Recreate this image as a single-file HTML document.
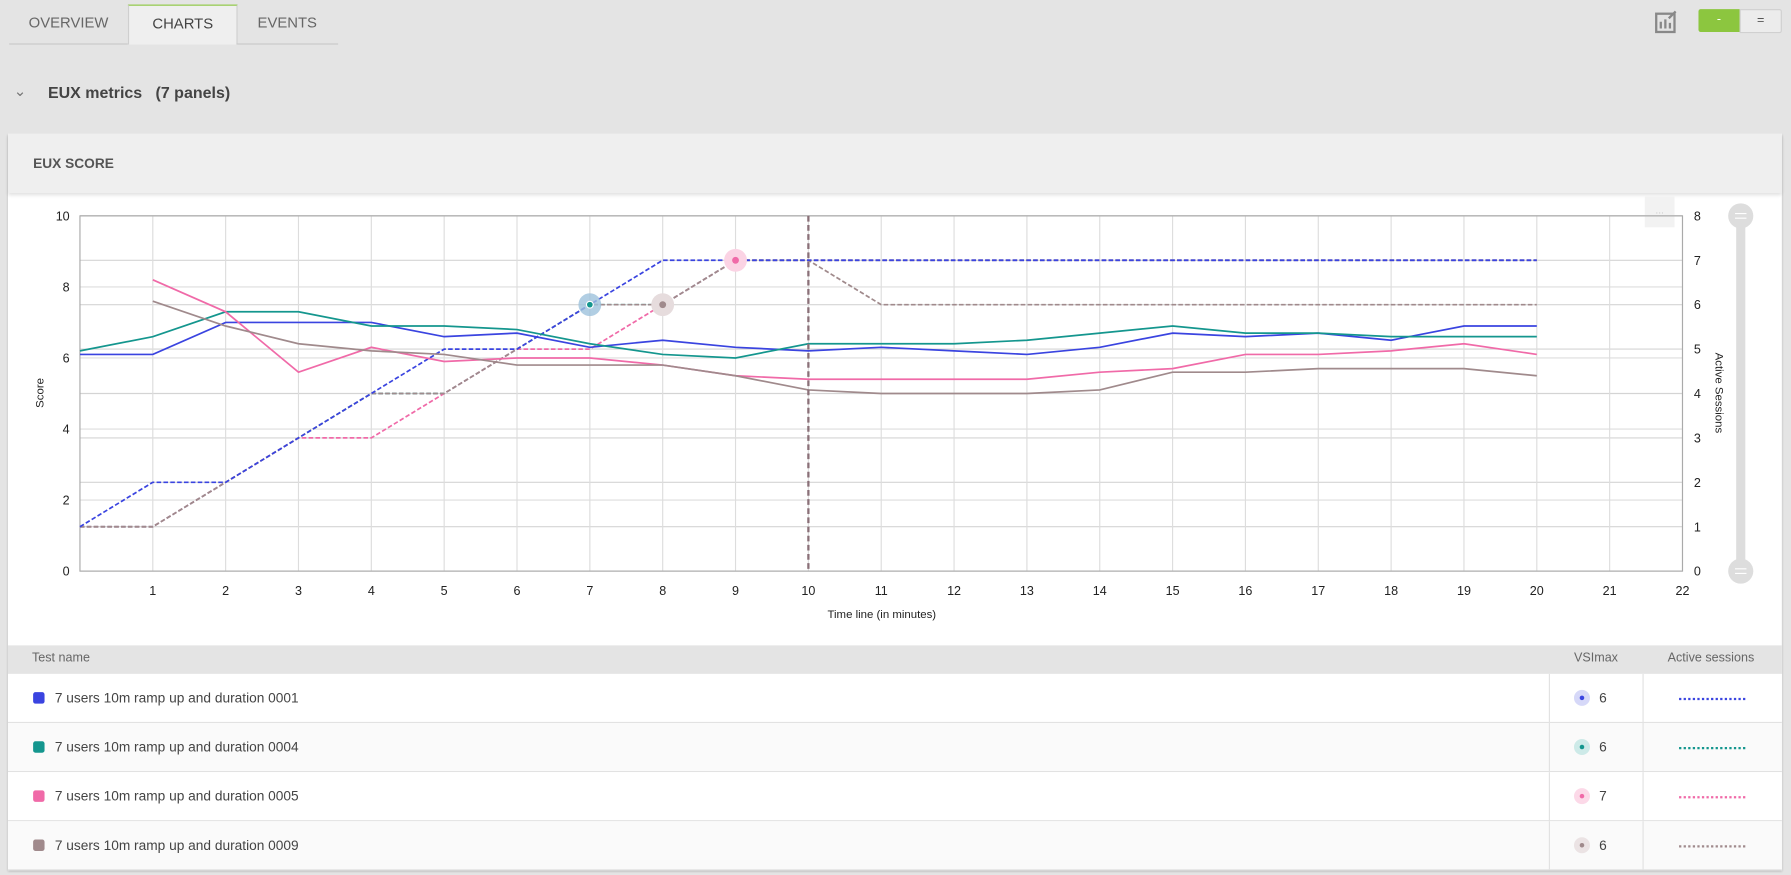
<!DOCTYPE html>
<html><head><meta charset="utf-8">
<style>
html,body{margin:0;padding:0;width:1791px;height:875px;overflow:hidden;background:#e4e4e4;font-family:"Liberation Sans",Arial,sans-serif}
#w{position:absolute;left:0;top:0;width:1568px;height:766px;transform:scale(1.14222);transform-origin:0 0}
.a{position:absolute}
.tab{position:absolute;top:4px;height:34px;line-height:32px;font-size:13px;color:#666;text-align:center;border-bottom:1px solid #c8c8c8}
</style></head><body>
<div id="w">
<div class="tab" style="left:8px;width:104px">OVERVIEW</div>
<div class="tab" style="left:112px;width:94px;background:#efefef;color:#444;border:1px solid #cfcfcf;border-top:1px solid #8cc63f;border-bottom:none;height:34px">CHARTS</div>
<div class="tab" style="left:207px;width:89px">EVENTS</div>
<svg class="a" style="left:1448px;top:8px" width="22" height="22"><rect x="2" y="4" width="16" height="16" fill="none" stroke="#888" stroke-width="2"/><path d="M6 17V11M10 17V9M14 17V12" stroke="#888" stroke-width="2"/><path d="M13 8L19 2" stroke="#888" stroke-width="2"/></svg>
<div class="a" style="left:1487px;top:8px;width:36px;height:20px;background:#8cc63f;border-radius:2px 0 0 2px;color:#fff;font-size:11px;text-align:center;line-height:19px">-</div>
<div class="a" style="left:1523px;top:8px;width:35px;height:19px;background:#ececec;border:1px solid #d0d0d0;border-radius:0 2px 2px 0;color:#555;font-size:11px;text-align:center;line-height:18px">=</div>
<div class="a" style="left:12px;top:72px;font-size:13px;color:#777">&#8964;</div>
<div class="a" style="left:42px;top:73px;font-size:14px;font-weight:bold;color:#444">EUX metrics&nbsp;&nbsp; (7 panels)</div>
<div class="a" style="left:7px;top:117px;width:1553px;height:645px;background:#fff;box-shadow:0 1px 2px rgba(0,0,0,.2)"></div>
<div class="a" style="left:7px;top:117px;width:1553px;height:52px;background:#efefef;box-shadow:0 2px 3px rgba(0,0,0,.12)"></div>
<div class="a" style="left:29px;top:136px;font-size:12px;font-weight:bold;color:#555">EUX SCORE</div>
<div class="a" style="left:1440px;top:172px;width:26px;height:27px;background:#f2f2f2;color:#ccc;font-size:9px;text-align:center;line-height:24px">...</div>
<svg id="ch" class="a" style="left:0;top:0" width="1568" height="566"></svg>
<div class="a" style="left:7px;top:565px;width:1553px;height:25px;background:#e4e4e4"></div>
<div class="a" style="left:28px;top:570px;font-size:11px;color:#666">Test name</div>
<div class="a" style="left:1378px;top:570px;font-size:11px;color:#666">VSImax</div>
<div class="a" style="left:1460px;top:570px;font-size:11px;color:#666">Active sessions</div>
<div id="rows"></div>
</div>
<script>
var s='',X=i=>70+i*1403/22,Y=v=>500-31.1*v,R=v=>500-38.875*v;
for(var i=0;i<=5;i++)s+=`<line x1="70" x2="1473" y1="${Y(i*2)}" y2="${Y(i*2)}" stroke="#ddd"/>`;
for(var i=1;i<=8;i++)s+=`<line x1="70" x2="1473" y1="${R(i)}" y2="${R(i)}" stroke="#d4d4d4"/>`;
for(var i=1;i<=22;i++)s+=`<line x1="${X(i)}" x2="${X(i)}" y1="189" y2="500" stroke="#ddd"/><text x="${X(i)}" y="521" font-size="11" text-anchor="middle" fill="#222">${i}</text>`;
s+=`<rect x="70" y="189" width="1403" height="311" fill="none" stroke="#aaa"/>`;
for(var i=0;i<=5;i++)s+=`<text x="61" y="${Y(i*2)+4}" font-size="11" text-anchor="end" fill="#222">${i*2}</text>`;
for(var i=0;i<=8;i++)s+=`<text x="1483" y="${R(i)+4}" font-size="11" fill="#222">${i}</text>`;
s+=`<text x="772" y="541" font-size="10" text-anchor="middle" fill="#222">Time line (in minutes)</text>`;
s+=`<text transform="translate(38,344) rotate(-90)" font-size="10" text-anchor="middle" fill="#222">Score</text>`;
s+=`<text transform="translate(1502,344) rotate(90)" font-size="10" text-anchor="middle" fill="#222">Active Sessions</text>`;
s+=`<rect x="1520" y="189" width="8" height="311" fill="#ddd"/><circle cx="1524" cy="189" r="11" fill="#ddd"/><circle cx="1524" cy="500" r="11" fill="#ddd"/><path d="M1519 187h10M1519 191h10M1519 498h10M1519 502h10" stroke="#fff"/>`;
var C={b:'#3a44e0',t:'#14968e',p:'#f06aa8',m:'#a08a8c'};
var sc={b:[[0,6.1],[1,6.1],[2,7],[3,7],[4,7],[5,6.6],[6,6.7],[7,6.3],[8,6.5],[9,6.3],[10,6.2],[11,6.3],[12,6.2],[13,6.1],[14,6.3],[15,6.7],[16,6.6],[17,6.7],[18,6.5],[19,6.9],[20,6.9]],
t:[[0,6.2],[1,6.6],[2,7.3],[3,7.3],[4,6.9],[5,6.9],[6,6.8],[7,6.4],[8,6.1],[9,6],[10,6.4],[11,6.4],[12,6.4],[13,6.5],[14,6.7],[15,6.9],[16,6.7],[17,6.7],[18,6.6],[19,6.6],[20,6.6]],
p:[[1,8.2],[2,7.3],[3,5.6],[4,6.3],[5,5.9],[6,6],[7,6],[8,5.8],[9,5.5],[10,5.4],[11,5.4],[12,5.4],[13,5.4],[14,5.6],[15,5.7],[16,6.1],[17,6.1],[18,6.2],[19,6.4],[20,6.1]],
m:[[1,7.6],[2,6.9],[3,6.4],[4,6.2],[5,6.1],[6,5.8],[7,5.8],[8,5.8],[9,5.5],[10,5.1],[11,5],[12,5],[13,5],[14,5.1],[15,5.6],[16,5.6],[17,5.7],[18,5.7],[19,5.7],[20,5.5]]};
var as={b:[1,2,2,3,4,5,5,6,7,7,7,7,7,7,7,7,7,7,7,7,7],t:[1,1,2,3,4,4,5,6,6,7,7,7,7,7,7,7,7,7,7,7,7],p:[1,1,2,3,3,4,5,5,6,7,7,7,7,7,7,7,7,7,7,7,7],m:[1,1,2,3,4,4,5,6,6,7,7,6,6,6,6,6,6,6,6,6,6]};
for(var k of ['t','p','m','b'])s+=`<polyline fill="none" stroke="${C[k]}" stroke-width="1.5" stroke-dasharray="4,2" points="${as[k].map((v,i)=>X(i)+','+R(v)).join(' ')}"/>`;
for(var k of ['b','t','p','m'])s+=`<polyline fill="none" stroke="${C[k]}" stroke-width="1.5" points="${sc[k].map(a=>X(a[0])+','+Y(a[1])).join(' ')}"/>`;
s+=`<line x1="${X(10)}" x2="${X(10)}" y1="189" y2="500" stroke="#8a7078" stroke-width="2" stroke-dasharray="5,3"/>`;
s+=`<circle cx="${X(7)}" cy="${R(6)}" r="10" fill="#9ec2dc" opacity=".8"/><circle cx="${X(7)}" cy="${R(6)}" r="3" fill="${C.t}" stroke="#fff"/>`;
s+=`<circle cx="${X(8)}" cy="${R(6)}" r="10" fill="#e6dcdd"/><circle cx="${X(8)}" cy="${R(6)}" r="3" fill="${C.m}"/>`;
s+=`<circle cx="${X(9)}" cy="${R(7)}" r="10" fill="#fbd3e4"/><circle cx="${X(9)}" cy="${R(7)}" r="3" fill="${C.p}"/>`;
document.getElementById('ch').innerHTML=s;
var rows=[['b','0001',6,'#d6d8f8'],['t','0004',6,'#cdeae8'],['p','0005',7,'#fcd9e8'],['m','0009',6,'#ebe3e4']],h='';
rows.forEach((r,i)=>{var y=590+i*43,c=C[r[0]];
h+=`<div class="a" style="left:7px;top:${y}px;width:1553px;height:42px;background:${i%2?'#fafafa':'#fff'};border-bottom:1px solid #e2e2e2"></div>
<div class="a" style="left:1356px;top:${y}px;width:1px;height:43px;background:#e2e2e2"></div><div class="a" style="left:1438px;top:${y}px;width:1px;height:43px;background:#e2e2e2"></div>
<div class="a" style="left:29px;top:${y+16}px;width:10px;height:10px;border-radius:2px;background:${c}"></div>
<div class="a" style="left:48px;top:${y+14}px;font-size:12px;color:#444">7 users 10m ramp up and duration ${r[1]}</div>
<div class="a" style="left:1378px;top:${y+14}px;width:14px;height:14px;border-radius:50%;background:${r[3]}"></div><div class="a" style="left:1383px;top:${y+19}px;width:4px;height:4px;border-radius:50%;background:${c}"></div>
<div class="a" style="left:1400px;top:${y+14}px;font-size:12px;color:#444">${r[2]}</div>
<div class="a" style="left:1470px;top:${y+21}px;width:58px;border-top:2px dotted ${c}"></div>`;});
document.getElementById('rows').innerHTML=h;
</script>
</body></html>
